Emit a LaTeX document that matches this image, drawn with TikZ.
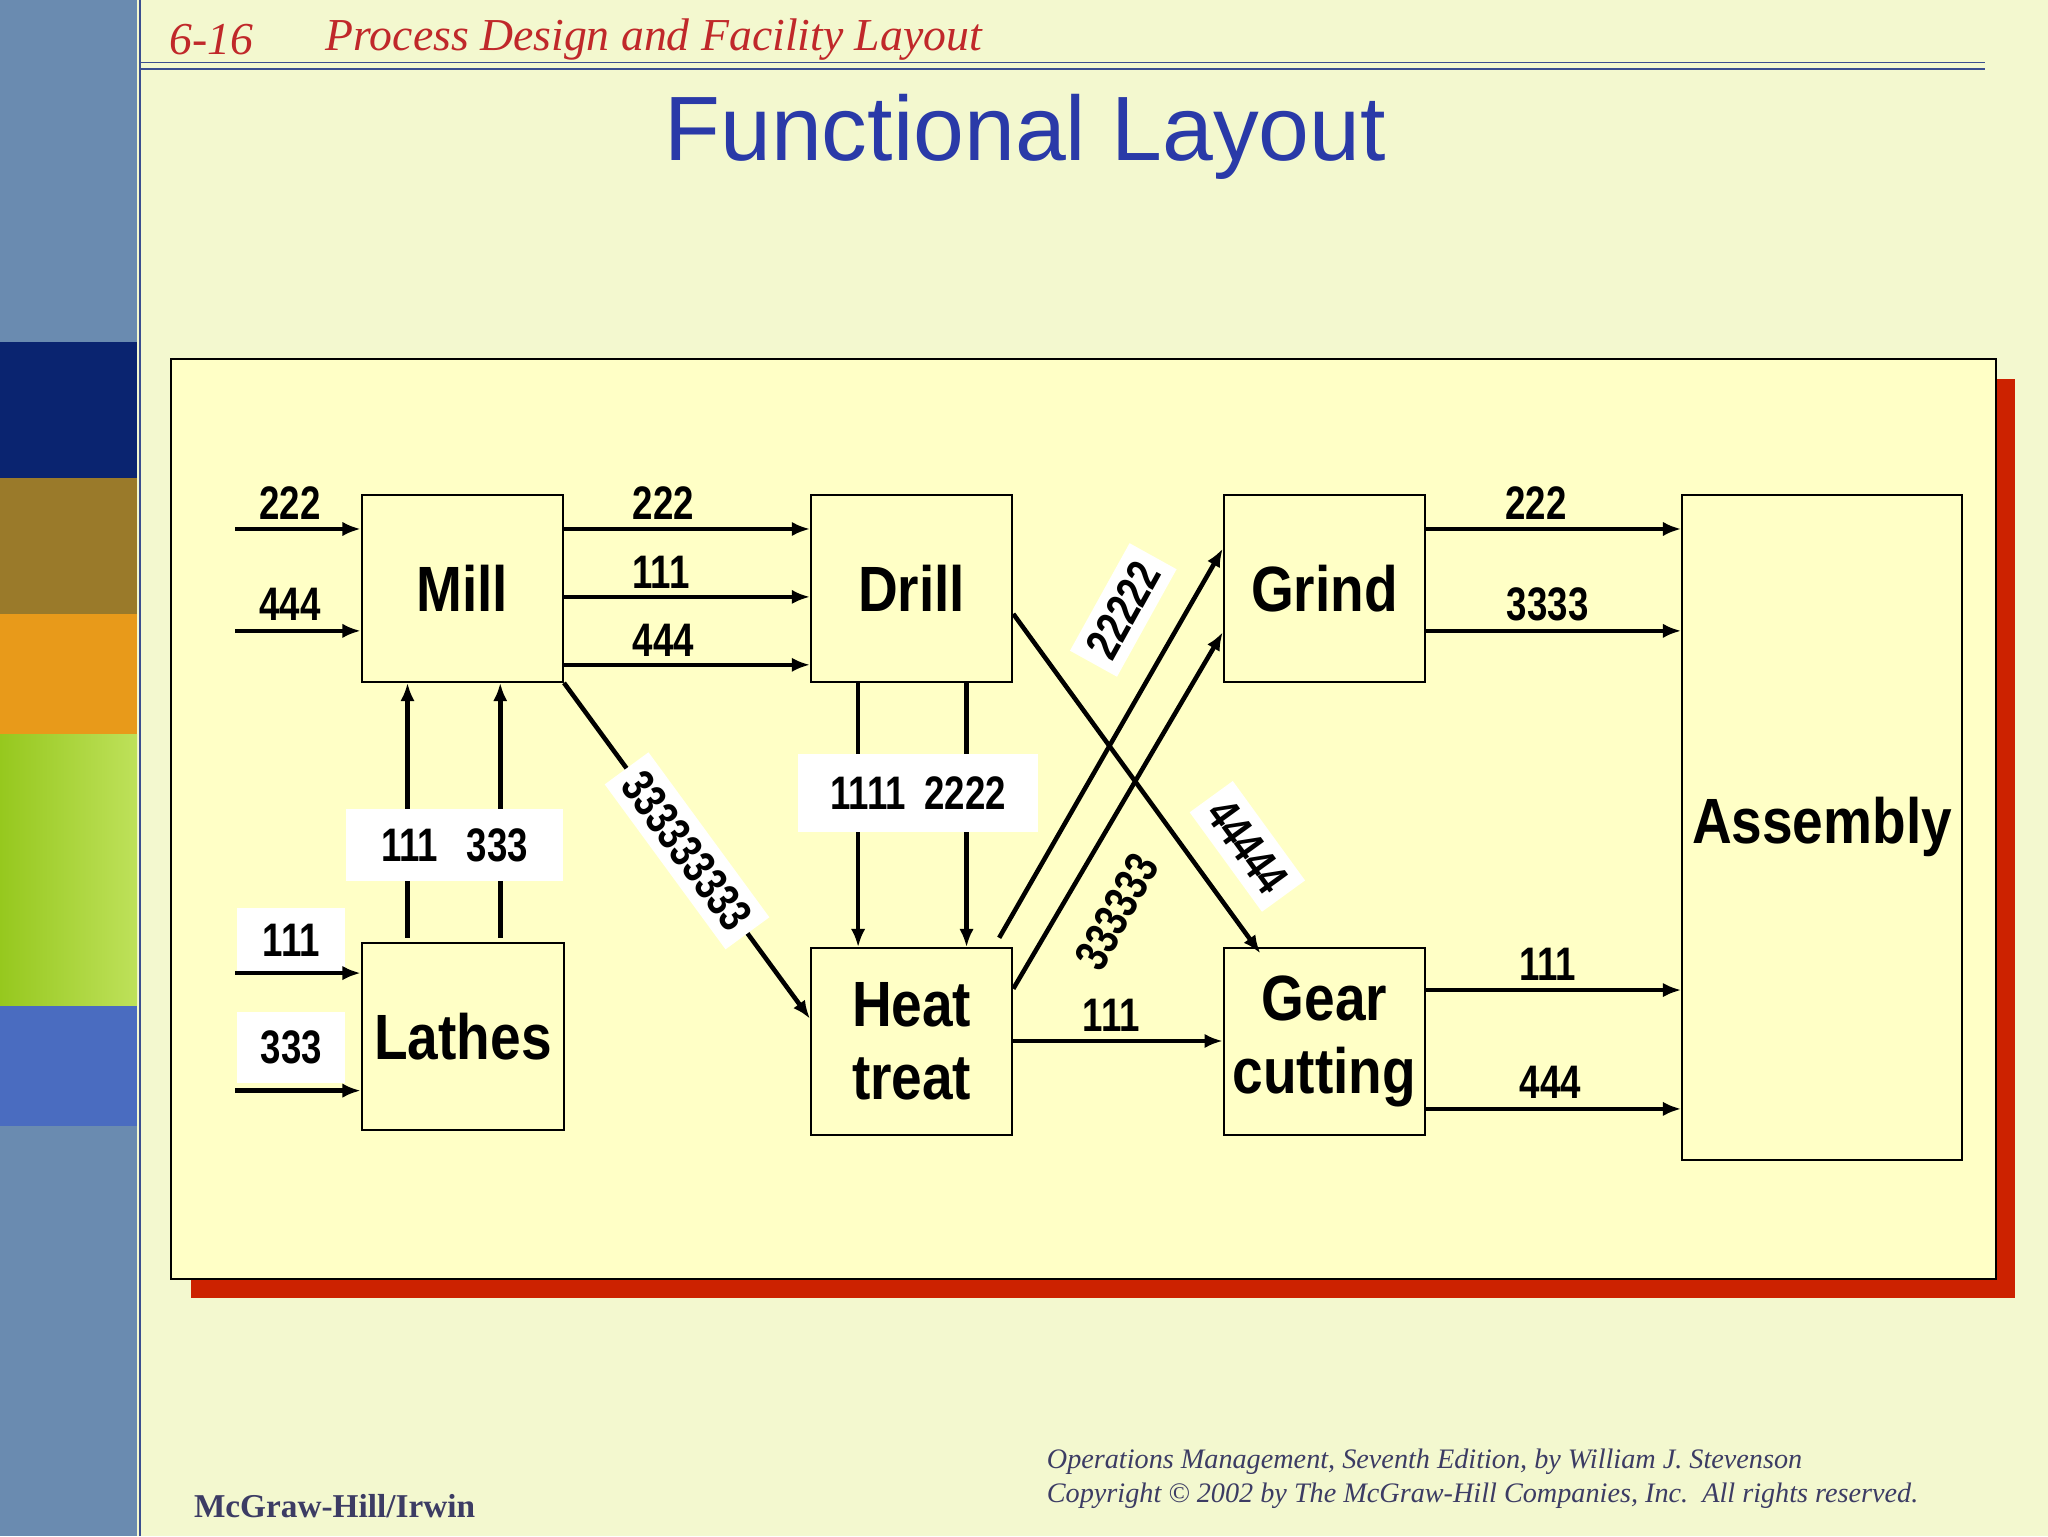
\documentclass[tikz,border=0pt]{standalone}
\usepackage{fontspec}
\setmainfont{Liberation Serif}
\newfontfamily\nar{Liberation Sans}[FakeStretch=0.78]
\newfontfamily\narb{Liberation Sans}[FakeStretch=0.86]
\newfontfamily\sans{Liberation Sans}
\usetikzlibrary{arrows.meta}
\definecolor{bg}{HTML}{F3F8CF}
\definecolor{frm}{HTML}{FFFFC6}
\definecolor{hdr}{HTML}{C0282A}
\definecolor{ttl}{HTML}{2A3AA8}
\definecolor{sgray}{HTML}{6A8BB0}
\definecolor{snavy}{HTML}{0A2470}
\definecolor{solive}{HTML}{9A7A2A}
\definecolor{sorange}{HTML}{E89A1A}
\definecolor{sblue}{HTML}{4A6CC0}
\definecolor{sline}{HTML}{3A4E90}
\definecolor{shad}{HTML}{CC2200}
\definecolor{foot}{HTML}{3C3C64}
\tikzset{
  box/.style={draw=black,line width=1.6pt,fill=frm,font=\narb\bfseries\fontsize{49}{52}\selectfont,align=center,inner sep=0pt},
  flow/.style={line width=3.5pt,-{Latex[length=14pt,width=11pt]}},
  lab/.style={font=\nar\bfseries\fontsize{36}{38}\selectfont,inner sep=3pt},
  wlab/.style={lab,fill=white,inner sep=8pt}
}
\begin{document}
\begin{tikzpicture}[x=1pt,y=-1pt]
\useasboundingbox (0,0) rectangle (1568,1176);
\fill[bg] (0,0) rectangle (1568,1176);
% sidebar
\fill[sgray] (0,0) rectangle (105,1176);
\fill[snavy] (0,262) rectangle (105,366);
\fill[solive] (0,366) rectangle (105,470);
\fill[sorange] (0,470) rectangle (105,562);
\shade[left color={rgb,255:red,150;green,200;blue,30},right color={rgb,255:red,190;green,225;blue,90}] (0,562) rectangle (105,770);
\fill[sblue] (0,770) rectangle (105,862);
\draw[sline,line width=1.5pt] (107,0) -- (107,1176);
% header
\node[anchor=west,text=hdr,font=\itshape\fontsize{35}{37}\selectfont] (num) at (126,30) {6-16};
\node[anchor=west,text=hdr,font=\itshape\fontsize{35}{37}\selectfont] (hd) at (246,30) {Process Design and Facility Layout};
\draw[sline,line width=1.2pt] (107,48) -- (1520,48);
\draw[sline,line width=1.2pt] (107,53) -- (1520,53);
\node[text=ttl,font=\sans\fontsize{70}{74}\selectfont] (title) at (785,105) {Functional Layout};
% frame
\fill[shad] (146,290) rectangle (1543,994);
\draw[fill=frm,line width=1.6pt] (131,275) rectangle (1528,979);
% boxes
\node[box,minimum width=154pt,minimum height=143pt] (mill) at (354,450.5) {Mill};
\node[box,minimum width=154pt,minimum height=143pt] (drill) at (698,450.5) {Drill};
\node[box,minimum width=154pt,minimum height=143pt] (grind) at (1014,450.5) {Grind};
\node[box,minimum width=214pt,minimum height=509pt] (asm) at (1395,633.5) {Assembly};
\node[box,minimum width=155pt,minimum height=143pt] (lathes) at (354.5,793.5) {Lathes};
\node[box,minimum width=154pt,minimum height=143pt] (heat) at (698,797.5) {Heat\\[4pt]treat};
\node[box,minimum width=154pt,minimum height=143pt] (gear) at (1014,797.5) {Gear\\[4pt]cutting};
% inputs to mill
\coordinate (i1) at (180,405); \coordinate (i2) at (180,483);
\coordinate (i3) at (180,745); \coordinate (i4) at (180,835);
\draw[flow] (i1) -- (mill.west |- i1);
\draw[flow] (i2) -- (mill.west |- i2);
\node[lab] (l222a) at (222,385) {222};
\node[lab] (l444a) at (222,463) {444};
% mill -> drill
\draw[flow] (mill.east |- 0,405) -- (drill.west |- 0,405);
\draw[flow] (mill.east |- 0,457) -- (drill.west |- 0,457);
\draw[flow] (mill.east |- 0,509) -- (drill.west |- 0,509);
\node[lab] (l222b) at (508,385) {222};
\node[lab] (l111b) at (506,438) {111};
\node[lab] (l444b) at (508,490) {444};
% lathes -> mill
\draw[flow] (312,718) -- (mill.south -| 312,0);
\draw[flow] (383,718) -- (mill.south -| 383,0);
\node[wlab,minimum width=166pt,minimum height=55pt] (l111333) at (348,647) {111\hspace{22pt}333};
% inputs to lathes
\node[wlab,minimum width=83pt,minimum height=50pt] (l111c) at (223,720) {111};
\node[wlab,minimum width=83pt,minimum height=54pt] (l333c) at (223,802) {333};
\draw[flow] (i3) -- (lathes.west |- i3);
\draw[flow] (i4) -- (lathes.west |- i4);
% mill -> heat
\draw[flow] (mill.south east) -- (heat.west |- 0,780) node[midway,sloped,wlab] (l3s) {333333333};
% drill -> heat
\draw[flow] (drill.south -| 657,0) -- (heat.north -| 657,0);
\draw[flow] (drill.south -| 740,0) -- (heat.north -| 740,0);
\node[wlab,minimum width=184pt,minimum height=60pt] (l12) at (703,607) {1111\hspace{14pt}2222};
% drill -> gear
\coordinate (g1) at (965,730);
\draw[flow] (drill.east |- 0,470) -- (g1);
\node[wlab,rotate=-54] (l4s) at (955,648) {44444};
% heat -> grind
\coordinate (h1) at (765,718);
\draw[flow] (h1) -- (grind.west |- 0,420);
\node[wlab,rotate=61] (l2s) at (860,467) {22222};
\draw[flow] (heat.east |- 0,757) -- (grind.west |- 0,484);
\node[lab,rotate=61] (l3six) at (855,698) {333333};
% heat -> gear
\draw[flow] (heat.east |- 0,797) -- (gear.west |- 0,797);
\node[lab] (l111d) at (851,777) {111};
% grind -> asm
\draw[flow] (grind.east |- 0,405) -- (asm.west |- 0,405);
\draw[flow] (grind.east |- 0,483) -- (asm.west |- 0,483);
\node[lab] (l222e) at (1176,385) {222};
\node[lab] (l3333) at (1185,463) {3333};
% gear -> asm
\draw[flow] (gear.east |- 0,758) -- (asm.west |- 0,758);
\draw[flow] (gear.east |- 0,849) -- (asm.west |- 0,849);
\node[lab] (l111f) at (1185,738) {111};
\node[lab] (l444f) at (1187,829) {444};
% footer
\node[anchor=west,text=foot,font=\bfseries\fontsize{25.5}{27}\selectfont] (mh) at (145,1153) {McGraw-Hill/Irwin};
\node[anchor=north west,text=foot,font=\itshape\fontsize{21.6}{26}\selectfont,align=left] (cp) at (798,1106) {Operations Management, Seventh Edition, by William J. Stevenson\\Copyright \textcopyright{} 2002 by The McGraw-Hill Companies, Inc.\ \ All rights reserved.};
\end{tikzpicture}
\end{document}
